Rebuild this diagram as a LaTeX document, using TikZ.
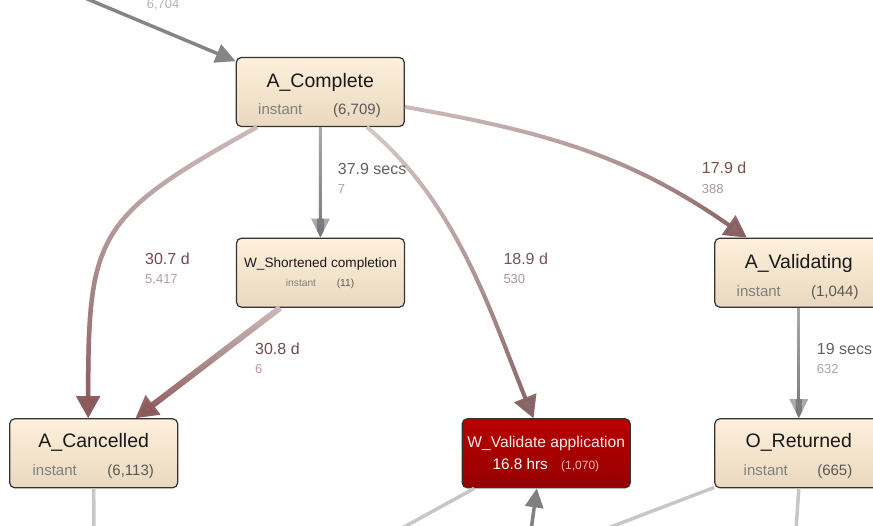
\documentclass[tikz,border=0pt]{standalone}
\usepackage{fontspec}
\setmainfont{Liberation Sans}
\usetikzlibrary{%
	arrows.meta,%
	fadings%
}
\tikzfading[name=flowfade, top color=transparent!100, bottom color=transparent!0]
\definecolor{boxtop}{HTML}{FEF0DC}
\definecolor{boxbot}{HTML}{E9D8BE}
\definecolor{boxline}{HTML}{333333}
\definecolor{hottop}{HTML}{B70000}
\definecolor{hotbot}{HTML}{960000}
\definecolor{brownlight}{HTML}{CDBBBB}
\definecolor{browndark}{HTML}{8A5858}
\definecolor{greylight}{HTML}{AAAAAA}
\definecolor{greydark}{HTML}{777777}
\definecolor{labbrown}{HTML}{754848}
\definecolor{numbrown}{HTML}{B89C9C}
\newcommand{\pxsize}[1]{\fontsize{#1}{#1}\selectfont}

\begin{document}
\begin{tikzpicture}[x=1pt,y=-1pt,
		box/.style={draw=boxline,line width=1.2pt,rounded corners=5pt,minimum width=168pt,
			minimum height=69pt,top color=boxtop,bottom color=boxbot},
		hotbox/.style={box,top color=hottop,bottom color=hotbot},
		acttitle/.style={anchor=base,inner sep=0pt,text=black!90,font=\pxsize{19.5}},
		actsub/.style={anchor=base,inner sep=0pt,text=black!50,font=\pxsize{15}},
		actnum/.style={anchor=base,inner sep=0pt,text=black!65,font=\pxsize{15}},
		elab/.style={anchor=base west,inner sep=0pt,font=\pxsize{16}},
		ecount/.style={anchor=base west,inner sep=0pt,font=\pxsize{13}},
		flow/.style n args={3}{line width=#1,draw=#2,-{Triangle[length=22pt,width=23pt]},
			postaction={draw=#3,path fading=flowfade}},
		gflow/.style={flow={3pt}{greylight}{greydark},-{Triangle[length=19pt,width=18pt]}},
		faint/.style={line width=3.5pt,draw=black!22}
	]
	\useasboundingbox (0,0) rectangle (873,526);
	\clip (0,0) rectangle (873,526);

	\node[box] (complete) at (320.3,92) {};
	\node[box] (short) at (320.5,272.7) {};
	\node[box] (validating) at (798.8,272.7) {};
	\node[box] (cancelled) at (93.7,453.3) {};
	\node[hotbox] (validate) at (546.2,453.3) {};
	\node[box] (returned) at (798.8,453.3) {};

	\node[acttitle] (complete-t) at ([yshift=4.7pt]complete.center) {A\_Complete};
	\node[actsub] (complete-s) at ([xshift=-40pt,yshift=-23pt]complete.center) {instant};
	\node[actnum] (complete-n) at ([xshift=36.7pt,yshift=-23pt]complete.center) {(6,709)};

	\node[acttitle,font=\pxsize{13.6}] (short-t) at ([yshift=5.4pt]short.center) {W\_Shortened completion};
	\node[actsub,font=\pxsize{10.2}] (short-s) at ([xshift=-19.5pt,yshift=-14pt]short.center) {instant};
	\node[actnum,font=\pxsize{10.2}] (short-n) at ([xshift=25pt,yshift=-14pt]short.center) {(11)};

	\node[acttitle] (validating-t) at ([yshift=4.4pt]validating.center) {A\_Validating};
	\node[actsub] (validating-s) at ([xshift=-40pt,yshift=-24pt]validating.center) {instant};
	\node[actnum] (validating-n) at ([xshift=36pt,yshift=-24pt]validating.center) {(1,044)};

	\node[acttitle] (cancelled-t) at ([yshift=5.6pt]cancelled.center) {A\_Cancelled};
	\node[actsub] (cancelled-s) at ([xshift=-39pt,yshift=-22.4pt]cancelled.center) {instant};
	\node[actnum] (cancelled-n) at ([xshift=37pt,yshift=-22.4pt]cancelled.center) {(6,113)};

	\node[acttitle,text=white!92!red,font=\pxsize{15.6}] (validate-t) at ([yshift=6pt]validate.center) {W\_Validate application};
	\node[actsub,text=white,font=\pxsize{15.3}] (validate-s) at ([xshift=-26pt,yshift=-16pt]validate.center) {16.8 hrs};
	\node[actnum,text=red!30!white,font=\pxsize{12}] (validate-n) at ([xshift=34pt,yshift=-16pt]validate.center) {(1,070)};

	\node[acttitle] (returned-t) at ([yshift=5.6pt]returned.center) {O\_Returned};
	\node[actsub] (returned-s) at ([xshift=-33pt,yshift=-22.4pt]returned.center) {instant};
	\node[actnum] (returned-n) at ([xshift=36pt,yshift=-22.4pt]returned.center) {(665)};

	\coordinate (src) at (42,-20);
	\coordinate (cancelled-out) at (94,560);
	\coordinate (validate-out) at (344,560);
	\coordinate (validate-in) at (527,560);
	\coordinate (returned-out) at (524,560);
	\coordinate (returned-down) at (794,560);

	\draw	(src) edge[line width=3.5pt,draw=black!48,-{Triangle[length=20pt,width=19pt]}] (complete.160)
		(complete) edge[gflow] (short)
		(validating) edge[gflow] (returned)
		(complete.209) edge[flow={4.5pt}{brownlight}{browndark},out=209,in=90,looseness=1.4] (cancelled.99)
		(short.221) edge[flow={6pt}{brownlight}{browndark}] (cancelled.40)
		(complete.-37) edge[flow={4pt}{brownlight!80!white}{browndark!75!gray},out=-40,in=112,looseness=0.9] (validate.110)
		(complete.-10) edge[flow={4pt}{brownlight}{browndark!85!gray},out=-10,in=145] (validating.146)
		;
	\draw	(cancelled.south) edge[faint] (cancelled-out)
		(validate.206.7) edge[faint] (validate-out)
		(returned.202) edge[faint] (returned-out)
		(returned.south) edge[faint] (returned-down)
		(validate-in) edge[line width=3.5pt,draw=black!50,-{Triangle[length=19pt,width=18pt]}] (validate.255)
		;

	\node[ecount,text=black!30] (src-n) at (146.7,8.5) {6,704};
	\node[elab,text=labbrown] (cc-l) at (145,265) {30.7 d};
	\node[ecount,text=numbrown] (cc-n) at (145,283.3) {5,417};
	\node[elab,text=black!62] (cs-l) at (337.7,174.3) {37.9 secs};
	\node[ecount,text=black!35] (cs-n) at (337.7,193.3) {7};
	\node[elab,text=labbrown!80!gray] (cv-l) at (503.3,265) {18.9 d};
	\node[ecount,text=numbrown!80!gray] (cv-n) at (503.3,283.3) {530};
	\node[elab,text=labbrown] (sc-l) at (255,355) {30.8 d};
	\node[ecount,text=numbrown] (sc-n) at (255,373.3) {6};
	\node[elab,text=labbrown!85!gray] (cva-l) at (701.7,174) {17.9 d};
	\node[ecount,text=numbrown!80!gray] (cva-n) at (701.7,193.3) {388};
	\node[elab,text=black!62] (vr-l) at (816.7,355) {19 secs};
	\node[ecount,text=black!35] (vr-n) at (816.7,373.3) {632};
\end{tikzpicture}
\end{document}
